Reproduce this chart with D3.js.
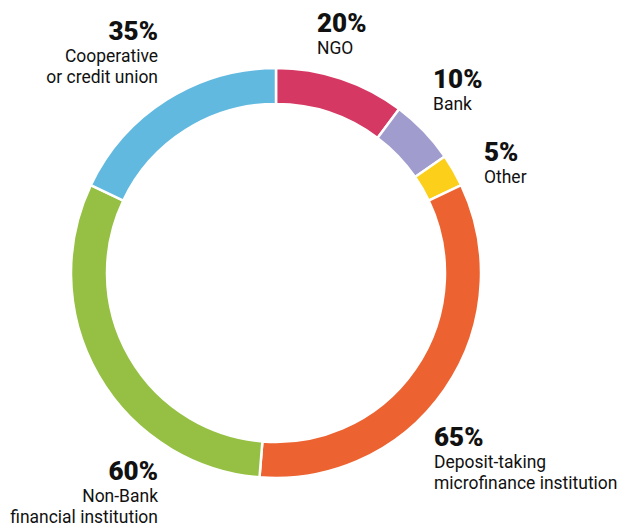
<!DOCTYPE html>
<html>
<head>
<meta charset="utf-8">
<script src="https://cdn.jsdelivr.net/npm/d3@7"></script>
<style>
  html, body { margin: 0; padding: 0; background: #fff; }
  svg { display: block; }
  .pct { font-family: Roboto, "Open Sans", sans-serif; font-weight: 900; font-size: 26px; fill: #111; }
  .lbl { font-family: Roboto, "Open Sans", sans-serif; font-weight: 400; font-size: 19px; fill: #111; }
</style>
</head>
<body>
<svg id="chart" width="620" height="527"></svg>
<script>
// Institution types, in clockwise order from 12 o'clock
const categories = ["NGO", "Bank", "Other", "Deposit-taking microfinance institution", "Non-Bank financial institution", "Cooperative or credit union"];
const values = [20, 10, 5, 65, 60, 35];
const colors = ["#d63864", "#a09ccd", "#fccf1a", "#ec6230", "#95c043", "#62b9e0"];
const labelLines = [
  ["NGO"],
  ["Bank"],
  ["Other"],
  ["Deposit-taking", "microfinance institution"],
  ["Non-Bank", "financial institution"],
  ["Cooperative", "or credit union"]
];

const svg = d3.select("#chart");
const cx = 276, cy = 273, outerR = 205, innerR = 169;

const pie = d3.pie().sort(null).value(d => d.value);
const arc = d3.arc().innerRadius(innerR).outerRadius(outerR);

const data = categories.map((c, i) => ({ name: c, value: values[i], color: colors[i], lines: labelLines[i] }));
const arcs = pie(data);

const g = svg.append("g").attr("transform", `translate(${cx},${cy})`);
g.selectAll("path")
  .data(arcs)
  .join("path")
  .attr("d", arc)
  .attr("fill", d => d.data.color)
  .attr("stroke", "#fff")
  .attr("stroke-width", 2.5);

// Label anchors: [x, baseline of the percentage, text-anchor]
const labelPos = [
  [317, 32, "start"],
  [433, 88, "start"],
  [484, 161, "start"],
  [434, 446, "start"],
  [158, 480, "end"],
  [158, 40, "end"]
];

const labels = svg.selectAll("g.label")
  .data(data)
  .join("g")
  .attr("class", "label")
  .attr("transform", (d, i) => `translate(${labelPos[i][0]},${labelPos[i][1]})`);

labels.append("text")
  .attr("class", "pct")
  .attr("text-anchor", (d, i) => labelPos[i][2])
  .text(d => d.value + "%");

// Category names in a slightly narrowed face
labels.each(function (d, i) {
  const t = d3.select(this).append("g").attr("transform", "scale(0.92,1)");
  d.lines.forEach((line, j) => {
    t.append("text")
      .attr("class", "lbl")
      .attr("text-anchor", labelPos[i][2])
      .attr("y", 22 + j * 21)
      .text(line);
  });
});
</script>
</body>
</html>
